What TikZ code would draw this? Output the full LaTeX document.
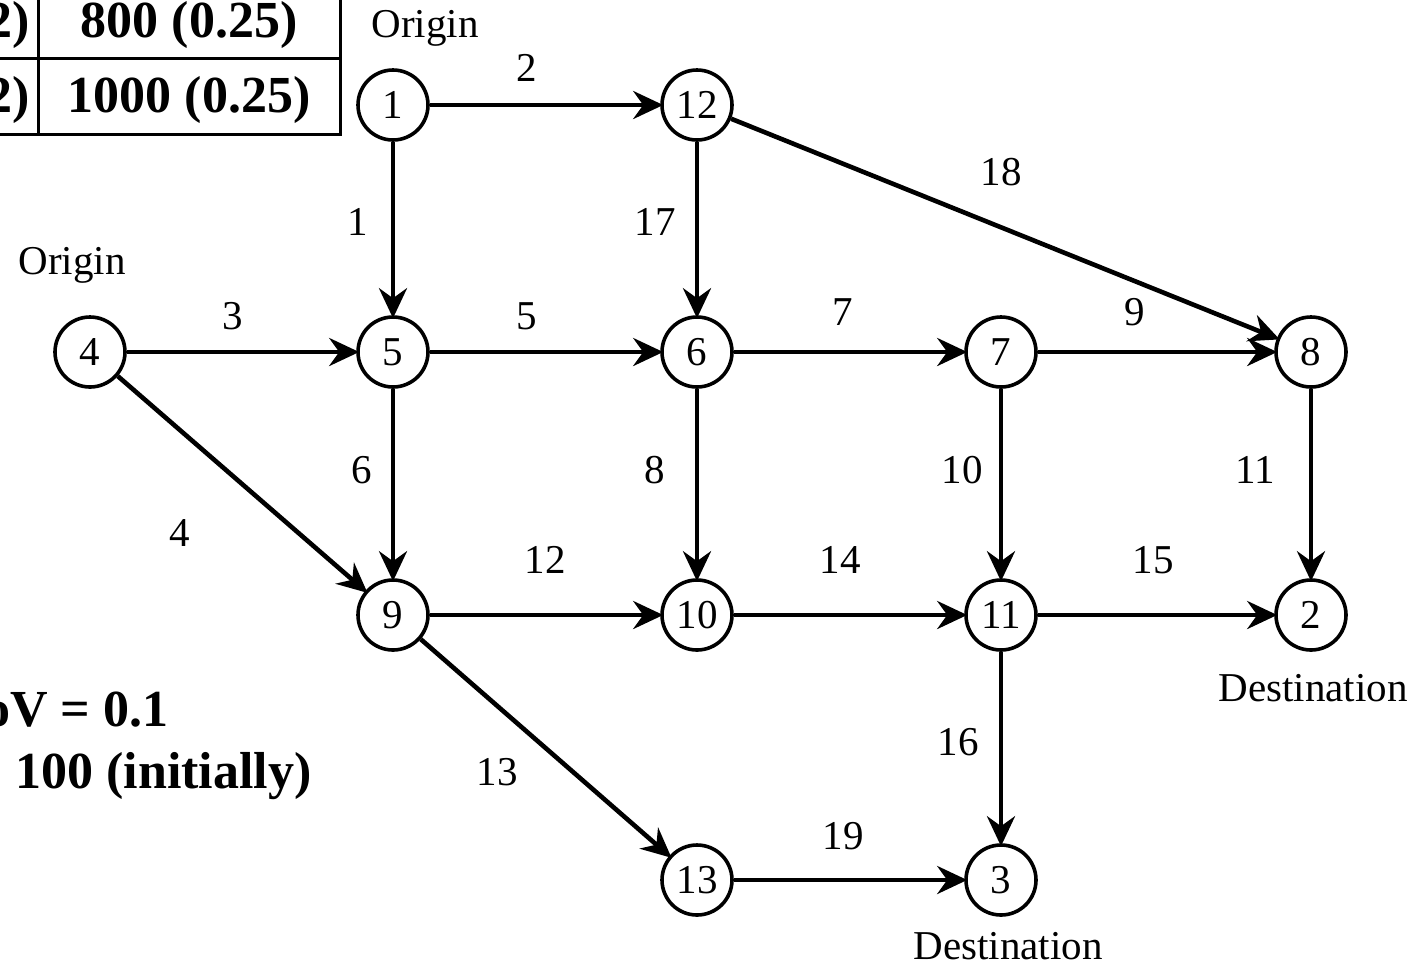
\documentclass[tikz,border=0pt]{standalone}
\usepackage{fontspec}
\setmainfont{Liberation Serif}
\usetikzlibrary{arrows.meta}
\begin{document}
\begin{tikzpicture}[x=0.5pt,y=-0.5pt,
  vtx/.style={circle,draw,line width=1.8pt,minimum size=35pt,inner sep=0pt,font=\fontsize{20.5}{22}\selectfont},
  link/.style={line width=2.3pt,shorten >=-1.5pt,-{Stealth[length=15pt,width=14pt,inset=5pt]}},
  lbl/.style={font=\fontsize{20.5}{22}\selectfont,inner sep=0pt},
  boldtxt/.style={font=\fontsize{26}{28}\selectfont\bfseries,inner sep=0pt},
  grid/.style={line width=1.5pt}]
\useasboundingbox (0,0) rectangle (1414,966);
\clip (0,0) rectangle (1414,966);

% data table in the upper left corner
\draw[grid] (-400,-20) rectangle (340,134);
\draw[grid] (-400,58) -- (340,58);
\draw[grid] (38,-20) -- (38,134);
\node[boldtxt,anchor=east] (t1a) at (30,25) {2)};
\node[boldtxt,anchor=east] (t2a) at (30,100) {2)};
\node[boldtxt] (t1b) at (189,25) {800 (0.25)};
\node[boldtxt] (t2b) at (189,100) {1000 (0.25)};

% notes in the lower left corner
\node[boldtxt,anchor=east] (n1) at (169,710) {oV = 0.1};
\node[boldtxt,anchor=west] (n2) at (15,776) {100 (initially)};

% vertices
\node[vtx] (v1)  at (393,105) {1};
\node[vtx] (v12) at (697,105) {12};
\node[vtx] (v4)  at (90,352)  {4};
\node[vtx] (v5)  at (393,352) {5};
\node[vtx] (v6)  at (697,352) {6};
\node[vtx] (v7)  at (1001,352) {7};
\node[vtx] (v8)  at (1311,352) {8};
\node[vtx] (v9)  at (393,615) {9};
\node[vtx] (v10) at (697,615) {10};
\node[vtx] (v11) at (1001,615) {11};
\node[vtx] (v2)  at (1311,615) {2};
\node[vtx] (v13) at (697,880) {13};
\node[vtx] (v3)  at (1001,880) {3};

% origin / destination tags
\node[lbl] (o1) at (425,28) {Origin};
\node[lbl] (o4) at (72,265) {Origin};
\node[lbl] (d2) at (1313,688) {Destination};
\node[lbl] (d3) at (1008,946) {Destination};

% links
\draw[link] (v1) -- (v12);
\draw[link] (v1) -- (v5);
\draw[link] (v12) -- (v6);
\draw[link] (v12) -- (v8);
\draw[link] (v4) -- (v5);
\draw[link] (v4) -- (v9);
\draw[link] (v5) -- (v6);
\draw[link] (v5) -- (v9);
\draw[link] (v6) -- (v7);
\draw[link] (v6) -- (v10);
\draw[link] (v7) -- (v8);
\draw[link] (v7) -- (v11);
\draw[link] (v8) -- (v2);
\draw[link] (v9) -- (v10);
\draw[link] (v10) -- (v11);
\draw[link] (v11) -- (v2);
\draw[link] (v11) -- (v3);
\draw[link] (v9) -- (v13);
\draw[link] (v13) -- (v3);

% link numbers
\node[lbl] (l2)  at (527,68)  {2};
\node[lbl] (l1)  at (358,222) {1};
\node[lbl] (l17) at (655,222) {17};
\node[lbl] (l18) at (1001,172) {18};
\node[lbl] (l3)  at (233,316) {3};
\node[lbl] (l4)  at (180,533) {4};
\node[lbl] (l5)  at (527,316) {5};
\node[lbl] (l6)  at (362,470) {6};
\node[lbl] (l7)  at (843,312) {7};
\node[lbl] (l8)  at (655,470) {8};
\node[lbl] (l9)  at (1135,312) {9};
\node[lbl] (l10) at (962,470) {10};
\node[lbl] (l11) at (1255,470) {11};
\node[lbl] (l12) at (545,560) {12};
\node[lbl] (l14) at (840,560) {14};
\node[lbl] (l15) at (1153,560) {15};
\node[lbl] (l16) at (958,742) {16};
\node[lbl] (l13) at (497,772) {13};
\node[lbl] (l19) at (843,836) {19};
\end{tikzpicture}
\end{document}
